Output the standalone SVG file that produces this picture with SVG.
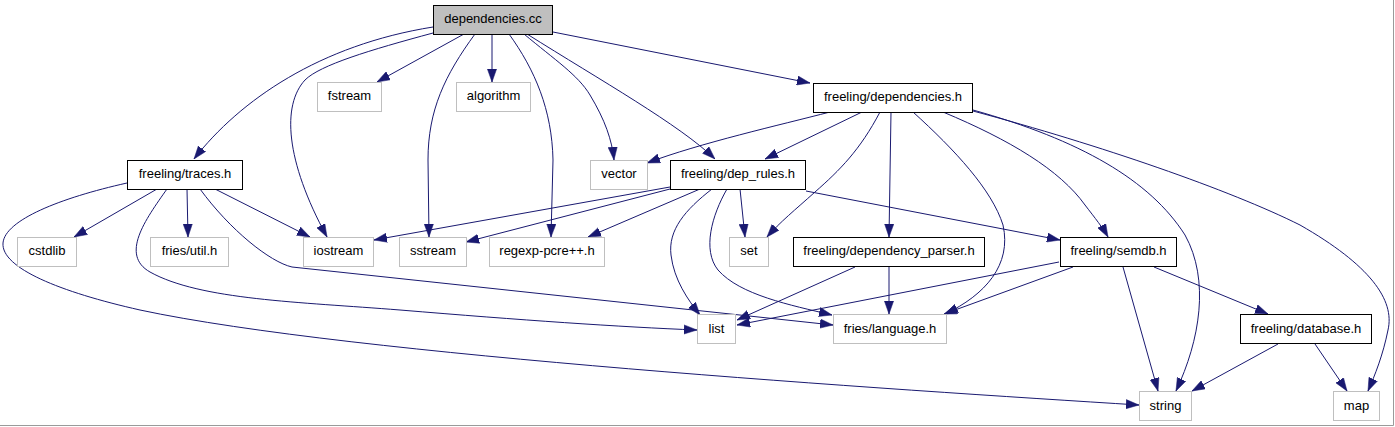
<svg xmlns="http://www.w3.org/2000/svg" width="1395" height="427" viewBox="0 0 1395 427">
<style>
text{font-family:"Liberation Sans",Arial,sans-serif;font-size:13px;fill:#000;text-anchor:middle}
.doc rect{fill:#fff;stroke:#000;stroke-width:1}
.root rect{fill:#bfbfbf;stroke:#000;stroke-width:1}
.sys rect{fill:#fff;stroke:#bfbfbf;stroke-width:1}
#edges path{fill:none;stroke:#191970;stroke-width:1;marker-end:url(#ah)}
</style>
<defs>
<marker id="ah" markerUnits="userSpaceOnUse" viewBox="0 0 13 10" markerWidth="13" markerHeight="10" refX="13" refY="5" orient="auto">
<path d="M0,0.4 L13,5 L0,9.6 z" fill="#191970" stroke="#191970" stroke-width="0.5"/>
</marker>
</defs>
<rect x="0" y="0" width="1395" height="427" fill="#fff"/>
<path d="M1393.5,0 V425.5 H0" fill="none" stroke="#9a9a9a" stroke-width="1"/>
<g id="edges">
<path d="M433,27 C320,45 240,100 194,159"/>
<path d="M433,33 C370,50 320,65 305,80 C282,105 285,160 327,237"/>
<path d="M464,34 L377,82"/>
<path d="M475,34 C445,75 428,110 428,160 L429,237"/>
<path d="M492,34 L492,82"/>
<path d="M509,34 C535,70 552,110 553,160 L551,237"/>
<path d="M524,34 C555,60 578,75 590,95 C605,120 612,140 614,160"/>
<path d="M527,34 C600,80 680,125 715,159"/>
<path d="M553,32 L810,83"/>
<path d="M157,189 L74,237"/>
<path d="M187,189 L188,237"/>
<path d="M215,189 L310,237"/>
<path d="M167,189 C145,220 120,255 150,272 C200,300 300,302 400,310 C520,320 620,327 697,330"/>
<path d="M200,189 C230,230 270,262 292,267 L833,325"/>
<path d="M127,183 C60,198 5,220 3,243 C1,268 60,292 140,310 C350,355 900,390 1139,405"/>
<path d="M670,187 L374,240"/>
<path d="M670,189 L466,242"/>
<path d="M700,189 L588,237"/>
<path d="M740,189 L745,237"/>
<path d="M712,189 C685,210 668,230 671,255 C674,280 688,300 700,315"/>
<path d="M727,189 C712,215 702,250 718,270 C740,295 790,305 832,315"/>
<path d="M806,191 L1060,240"/>
<path d="M830,112 C780,125 700,143 647,163"/>
<path d="M862,112 L765,159"/>
<path d="M880,112 C860,150 840,170 815,192 C795,210 780,222 767,237"/>
<path d="M891,112 L889,237"/>
<path d="M913,112 C955,150 992,190 1003,225 C1012,265 985,295 945,314"/>
<path d="M943,112 C1010,140 1060,170 1085,205 C1095,218 1103,228 1108,237"/>
<path d="M973,110 C1080,140 1150,180 1185,235 C1210,280 1200,340 1176,391"/>
<path d="M973,111 C1100,145 1230,190 1300,225 C1370,265 1395,300 1388,330 C1383,355 1375,375 1368,391"/>
<path d="M855,267 L737,320"/>
<path d="M889,267 L889,314"/>
<path d="M1059,262 L737,325"/>
<path d="M1073,267 L944,314"/>
<path d="M1123,267 L1158,391"/>
<path d="M1154,267 L1268,314"/>
<path d="M1278,344 L1192,391"/>
<path d="M1315,344 L1347,391"/>
</g>
<g id="n_dependencies_cc" class="root"><rect x="433.5" y="5.5" width="119" height="29"/><text x="493" y="22.5">dependencies.cc</text></g>
<g id="n_fstream" class="sys"><rect x="317.5" y="82.5" width="64" height="29"/><text x="349.5" y="100">fstream</text></g>
<g id="n_algorithm" class="sys"><rect x="456.5" y="82.5" width="74" height="29"/><text x="493.5" y="100">algorithm</text></g>
<g id="n_dependencies_h" class="doc"><rect x="813.5" y="83.5" width="159" height="29"/><text x="893" y="101">freeling/dependencies.h</text></g>
<g id="n_traces_h" class="doc"><rect x="127.5" y="160.5" width="115" height="29"/><text x="185" y="177.5">freeling/traces.h</text></g>
<g id="n_vector" class="sys"><rect x="590.5" y="160.5" width="57" height="29"/><text x="619" y="177.5">vector</text></g>
<g id="n_dep_rules_h" class="doc"><rect x="670.5" y="160.5" width="135" height="29"/><text x="738" y="177.5">freeling/dep_rules.h</text></g>
<g id="n_cstdlib" class="sys"><rect x="17.5" y="237.5" width="59" height="29"/><text x="47" y="255">cstdlib</text></g>
<g id="n_fries_util_h" class="sys"><rect x="150.5" y="237.5" width="78" height="29"/><text x="189.5" y="255">fries/util.h</text></g>
<g id="n_iostream" class="sys"><rect x="303.5" y="237.5" width="70" height="29"/><text x="338.5" y="255">iostream</text></g>
<g id="n_sstream" class="sys"><rect x="399.5" y="237.5" width="67" height="29"/><text x="433" y="255">sstream</text></g>
<g id="n_regexp" class="sys"><rect x="489.5" y="237.5" width="115" height="29"/><text x="547" y="255">regexp-pcre++.h</text></g>
<g id="n_set" class="sys"><rect x="729.5" y="237.5" width="39" height="29"/><text x="749" y="255">set</text></g>
<g id="n_dependency_parser_h" class="doc"><rect x="793.5" y="237.5" width="191" height="29"/><text x="889" y="255">freeling/dependency_parser.h</text></g>
<g id="n_semdb_h" class="doc"><rect x="1060.5" y="237.5" width="116" height="29"/><text x="1118.5" y="255">freeling/semdb.h</text></g>
<g id="n_list" class="sys"><rect x="697.5" y="314.5" width="38" height="29"/><text x="716.5" y="332.5">list</text></g>
<g id="n_fries_language_h" class="sys"><rect x="833.5" y="314.5" width="113" height="29"/><text x="890" y="332.5">fries/language.h</text></g>
<g id="n_database_h" class="doc"><rect x="1240.5" y="314.5" width="131" height="29"/><text x="1306" y="332.5">freeling/database.h</text></g>
<g id="n_string" class="sys"><rect x="1139.5" y="391.5" width="52" height="29"/><text x="1165.5" y="409.5">string</text></g>
<g id="n_map" class="sys"><rect x="1333.5" y="391.5" width="46" height="29"/><text x="1356.5" y="409.5">map</text></g>
</svg>
